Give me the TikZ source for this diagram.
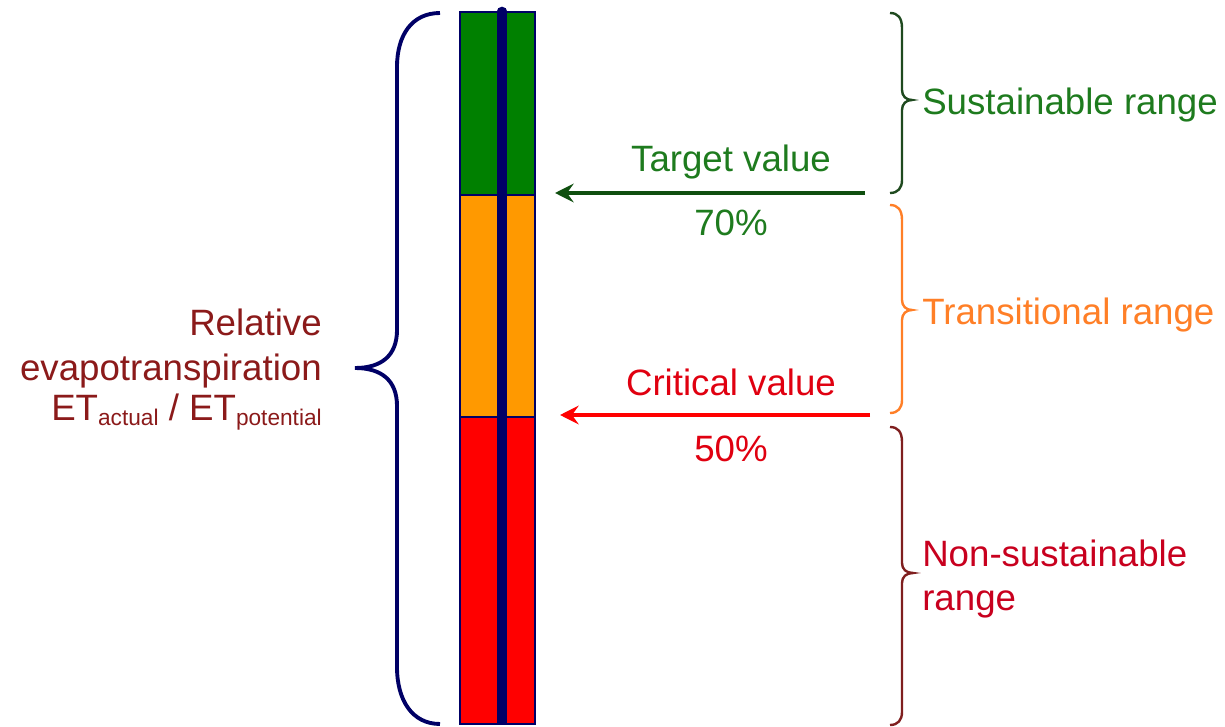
\documentclass[tikz,border=0pt]{standalone}
\usepackage{fontspec}
\setmainfont{Liberation Sans}
\usetikzlibrary{arrows.meta}
\definecolor{navy}{HTML}{000066}
\definecolor{bargreen}{HTML}{008000}
\definecolor{barorange}{HTML}{FF9900}
\definecolor{barred}{HTML}{FF0000}
\definecolor{txtgreen}{HTML}{1E7B1E}
\definecolor{arrgreen}{HTML}{0F4F0F}
\definecolor{brgreen}{HTML}{1F4A1F}
\definecolor{txtorange}{HTML}{FF7F27}
\definecolor{txtred}{HTML}{E00010}
\definecolor{nstxt}{HTML}{C8001E}
\definecolor{brred}{HTML}{7F1F1F}
\definecolor{lefttxt}{HTML}{8B1A1A}
\tikzset{
  lbl/.style={inner sep=0pt, font=\fontsize{27.5}{33}\selectfont},
  seg/.style={draw=navy, line width=0.8pt},
  pointer/.style={line width=2.8pt, -{Stealth[length=14pt,width=14pt,inset=5pt]}},
  rbr/.style={line width=1.8pt},
}
\begin{document}
\begin{tikzpicture}[x=0.75pt,y=-0.75pt]
\useasboundingbox (0,0) rectangle (1225,727);
% bar
\path[seg, fill=bargreen] (460,12) rectangle (535,195);
\path[seg, fill=barorange] (460,195) rectangle (535,417);
\path[seg, fill=barred] (460,417) rectangle (535,724);
\coordinate (lt) at (502,12);
\coordinate (lb) at (502,724);
\draw[navy, line width=8pt] (lt) -- (lb);
\fill[navy] (lt) circle (4pt);
% left brace
\draw[navy, line width=2.9pt] (440,13) .. controls (412,13) and (397,35) .. (397,67) -- (397,330) .. controls (397,356) and (381,368) .. (355,368) .. controls (381,368) and (397,380) .. (397,406) -- (397,667) .. controls (397,700) and (412,724) .. (440,724);
% right braces
\draw[brgreen, rbr] (890,13) .. controls (898,13) and (902,18) .. (902,28) -- (902,90) .. controls (902,96) and (906,100) .. (912,100) .. controls (906,100) and (902,104) .. (902,110) -- (902,180) .. controls (902,188) and (898,193) .. (890,193);
\draw[txtorange, rbr] (890,205) .. controls (898,205) and (902,210) .. (902,220) -- (902,300) .. controls (902,306) and (906,310) .. (912,310) .. controls (906,310) and (902,314) .. (902,320) -- (902,400) .. controls (902,408) and (898,413) .. (890,413);
\draw[brred, rbr] (890,427) .. controls (898,427) and (902,432) .. (902,442) -- (902,563) .. controls (902,569) and (906,573) .. (913,573) .. controls (906,573) and (902,577) .. (902,583) -- (902,712) .. controls (902,720) and (898,725) .. (890,725);
% arrows
\coordinate (tR) at (865,193);
\coordinate (tL) at (555,193);
\coordinate (cR) at (870,415);
\coordinate (cL) at (560,415);
\draw[pointer, arrgreen] (tR) -- (tL);
\draw[pointer, barred] (cR) -- (cL);
% labels
\node[lbl, txtgreen, anchor=base] (tv) at (731,172) {Target value};
\node[lbl, txtgreen, anchor=base] (p70) at (731,236) {70\%};
\node[lbl, txtred, anchor=base] (cv) at (731,396) {Critical value};
\node[lbl, txtred, anchor=base] (p50) at (731,461) {50\%};
\node[lbl, txtgreen, anchor=base west] (sr) at (922,115) {Sustainable range};
\node[lbl, txtorange, anchor=base west] (tr) at (922,325) {Transitional range};
\node[lbl, nstxt, anchor=base west] (nr1) at (922,566) {Non-sustainable};
\node[lbl, nstxt, anchor=base west] (nr2) at (922,610) {range};
\node[lbl, lefttxt, anchor=base east] (re1) at (322,335) {Relative};
\node[lbl, lefttxt, anchor=base east] (re2) at (322,380) {evapotranspiration};
\node[lbl, lefttxt, anchor=base east] (re3) at (322,420) {ET{\fontsize{17}{20}\selectfont\raisebox{-4.5pt}{actual}} / ET{\fontsize{17}{20}\selectfont\raisebox{-4.5pt}{potential}}};
\end{tikzpicture}
\end{document}
